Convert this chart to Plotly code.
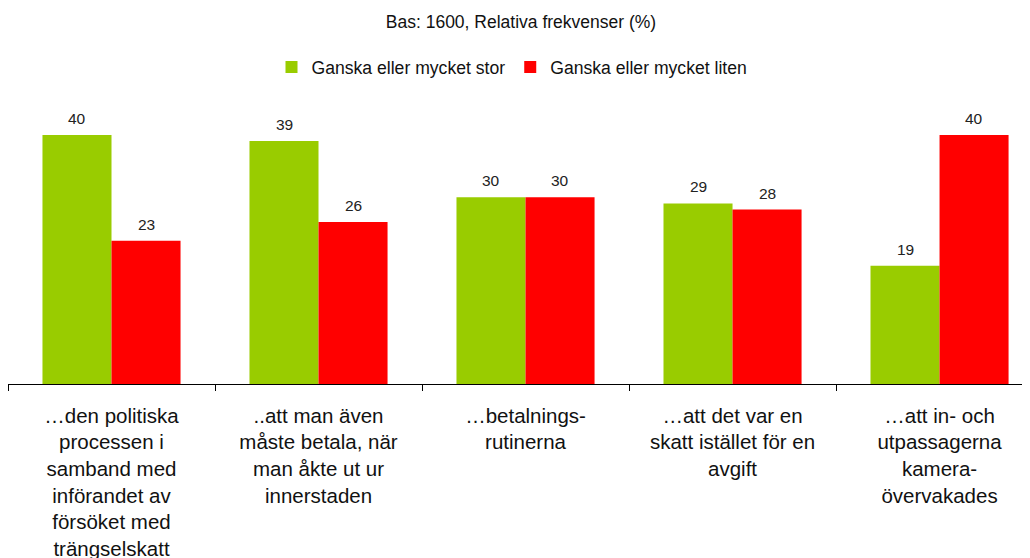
import plotly.graph_objects as go

categories = [
    "…den politiska<br>processen i<br>samband med<br>införandet av<br>försöket med<br>trängselskatt",
    "..att man även<br>måste betala, när<br>man åkte ut ur<br>innerstaden",
    "…betalnings-<br>rutinerna",
    "…att det var en<br>skatt istället för en<br>avgift",
    "…att in- och<br>utpassagerna<br>kamera-<br>övervakades",
]
stor = [40, 39, 30, 29, 19]
liten = [23, 26, 30, 28, 40]
series_names = ["Ganska eller mycket stor", "Ganska eller mycket liten"]
colors = ["#99CC00", "#FF0000"]

FONT = "Liberation Sans, Arial"
W, H = 1022, 550  # page adds an 8px body margin

fig = go.Figure()
for name, vals, col in zip(series_names, [stor, liten], colors):
    fig.add_trace(go.Bar(x=categories, y=vals, name=name, marker_color=col,
                         marker_line_width=0))

# value labels
for vals, shift in [(stor, -34.5), (liten, 34.5)]:
    for c, v in zip(categories, vals):
        fig.add_annotation(x=c, y=v, xref="x", yref="y", text=str(v), showarrow=False,
                           xshift=shift, yanchor="bottom", yshift=6,
                           font=dict(family=FONT, size=15.5, color="#222222"))

fig.update_layout(
    width=W, height=H,
    margin=dict(l=0, r=0, t=92, b=174, autoexpand=False),
    paper_bgcolor="white", plot_bgcolor="white",
    barmode="group", bargap=0.333, bargroupgap=0,
    font=dict(family=FONT, color="#111111"),
    title=dict(text="Bas: 1600, Relativa frekvenser (%)", x=513 / W, xref="container",
               y=1 - 14 / H, yref="container", xanchor="center", yanchor="middle",
               font=dict(size=17.5, color="#111111")),
    legend=dict(orientation="h", x=504 / W, xref="container", xanchor="center",
                y=1 - 59 / H, yref="container", yanchor="middle",
                font=dict(size=17.6, color="#111111"),
                traceorder="normal"),
    xaxis=dict(range=[-0.5, 4.437], showline=True, linecolor="black", linewidth=1,
               ticks="outside", tickson="boundaries", ticklen=6, tickcolor="black",
               ticklabelstandoff=13, automargin=False,
               tickfont=dict(size=20.5, color="#111111"), showgrid=False),
    yaxis=dict(range=[0, 45.6], visible=False, showgrid=False, zeroline=False),
    showlegend=True,
)

fig.write_html("out.html")
